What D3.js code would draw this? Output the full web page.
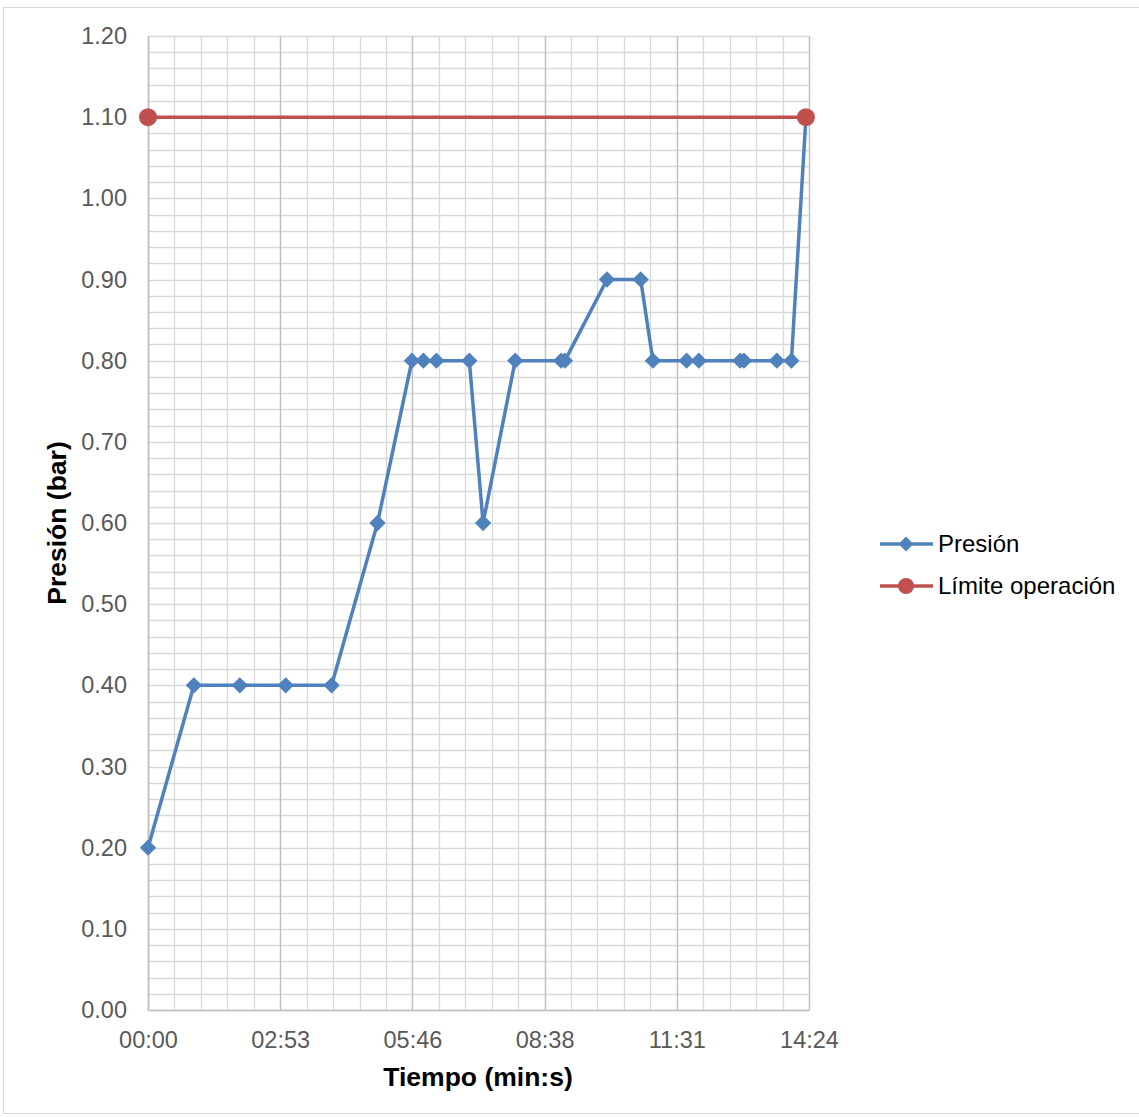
<!DOCTYPE html>
<html>
<head>
<meta charset="utf-8">
<script src="https://cdn.jsdelivr.net/npm/d3@7"></script>
<style>
  html, body { margin: 0; padding: 0; background: #fff; }
  svg { display: block; font-family: "Liberation Sans", Arial, sans-serif; }
</style>
</head>
<body>
<svg id="chart" width="1139" height="1117"></svg>
<script>
// Elapsed time of each reading, in seconds
const timeSeconds = [0, 60, 120, 180, 240, 300, 345, 360, 377, 420, 438, 480, 540, 545, 600, 644, 660, 704, 720, 774, 779, 822, 841, 860];
// Pressure readings (bar)
const pressure = [0.20, 0.40, 0.40, 0.40, 0.40, 0.60, 0.80, 0.80, 0.80, 0.80, 0.60, 0.80, 0.80, 0.80, 0.90, 0.90, 0.80, 0.80, 0.80, 0.80, 0.80, 0.80, 0.80, 1.10];
// Operating limit line
const limitSeconds = [0, 860];
const limitValues = [1.10, 1.10];
// Axis ticks
const xTicks = [0, 172.8, 345.6, 518.4, 691.2, 864];
const yTicks = [0, 0.1, 0.2, 0.3, 0.4, 0.5, 0.6, 0.7, 0.8, 0.9, 1.0, 1.1, 1.2];
const seriesNames = ["Presión", "Límite operación"];

const blue = "#4f81bd", red = "#c0504d";
const svg = d3.select("#chart");

// Outer chart frame
svg.append("rect")
  .attr("x", 3.5).attr("y", 7.5).attr("width", 1140).attr("height", 1106)
  .attr("fill", "none").attr("stroke", "#d9d9d9").attr("stroke-width", 1);

const plot = { left: 148, right: 809, top: 36, bottom: 1010 };
const x = d3.scaleLinear().domain([0, 864]).range([plot.left, plot.right]);
const y = d3.scaleLinear().domain([0, 1.2]).range([plot.bottom, plot.top]);

const g = svg.append("g");

// Minor gridlines
const xMinor = d3.range(0, 26).map(i => i * 864 / 25);
const yMinor = d3.range(0, 61).map(i => i * 0.02);
g.selectAll(".hminor").data(yMinor).join("line")
  .attr("x1", plot.left).attr("x2", plot.right)
  .attr("y1", d => Math.round(y(d)) + 0.5).attr("y2", d => Math.round(y(d)) + 0.5)
  .attr("stroke", "#d9d9d9").attr("stroke-width", 1.3);
g.selectAll(".vminor").data(xMinor).join("line")
  .attr("y1", plot.top).attr("y2", plot.bottom)
  .attr("x1", d => Math.round(x(d)) + 0.5).attr("x2", d => Math.round(x(d)) + 0.5)
  .attr("stroke", "#d9d9d9").attr("stroke-width", 1.3);
// Major vertical gridlines
g.selectAll(".vmajor").data(xTicks).join("line")
  .attr("y1", plot.top).attr("y2", plot.bottom)
  .attr("x1", d => Math.round(x(d)) + 0.5).attr("x2", d => Math.round(x(d)) + 0.5)
  .attr("stroke", "#bfbfbf").attr("stroke-width", 1.3);

// Axes
const fmt = s => {
  const t = Math.round(s);
  return String(Math.floor(t / 60)).padStart(2, "0") + ":" + String(t % 60).padStart(2, "0");
};
const xAxis = svg.append("g").attr("transform", `translate(0,${plot.bottom})`)
  .call(d3.axisBottom(x).tickValues(xTicks).tickFormat(fmt).tickSize(0).tickPadding(21));
const yAxis = svg.append("g").attr("transform", `translate(${plot.left},0)`)
  .call(d3.axisLeft(y).tickValues(yTicks).tickFormat(d3.format(".2f")).tickSize(0).tickPadding(21));
[xAxis, yAxis].forEach(a => {
  a.select(".domain").attr("stroke", "#bfbfbf").attr("stroke-width", 1.5);
  a.selectAll("text").attr("fill", "#595959").style("font-size", "23.5px")
    .style("font-family", "'Liberation Sans', Arial, sans-serif");
});

// Axis titles
svg.append("text")
  .attr("x", 478).attr("y", 1086).attr("text-anchor", "middle")
  .attr("font-weight", "bold").attr("font-size", 26.5).attr("fill", "#000")
  .text("Tiempo (min:s)");
svg.append("text")
  .attr("transform", "translate(66,523) rotate(-90)").attr("text-anchor", "middle")
  .attr("font-weight", "bold").attr("font-size", 26.5).attr("fill", "#000")
  .text("Presión (bar)");

// Series
const line = d3.line().x(d => x(d[0])).y(d => y(d[1]));
const presData = timeSeconds.map((t, i) => [t, pressure[i]]);
const limData = limitSeconds.map((t, i) => [t, limitValues[i]]);

const diamond = d3.symbol().type(d3.symbolDiamond2).size(170);

svg.append("path").datum(presData).attr("d", line)
  .attr("fill", "none").attr("stroke", blue).attr("stroke-width", 3.5).attr("stroke-linejoin", "round");
svg.selectAll(".prespt").data(presData).join("path")
  .attr("d", diamond)
  .attr("transform", d => `translate(${x(d[0])},${y(d[1])})`)
  .attr("fill", blue);

svg.append("path").datum(limData).attr("d", line)
  .attr("fill", "none").attr("stroke", red).attr("stroke-width", 3.5);
svg.selectAll(".limpt").data(limData).join("circle")
  .attr("cx", d => x(d[0])).attr("cy", d => y(d[1])).attr("r", 9).attr("fill", red);

// Legend
const legend = svg.append("g");
const legY = [544, 586];
seriesNames.forEach((name, i) => {
  const col = i === 0 ? blue : red;
  legend.append("line").attr("x1", 880).attr("x2", 933).attr("y1", legY[i]).attr("y2", legY[i])
    .attr("stroke", col).attr("stroke-width", 3.5);
  if (i === 0) {
    legend.append("path").attr("d", d3.symbol().type(d3.symbolDiamond2).size(140))
      .attr("transform", `translate(906,${legY[i]})`).attr("fill", col);
  } else {
    legend.append("circle").attr("cx", 906).attr("cy", legY[i]).attr("r", 8).attr("fill", col);
  }
  legend.append("text").attr("x", 938).attr("y", legY[i] + 8)
    .attr("font-size", 24).attr("fill", "#000").text(name);
});
</script>
</body>
</html>
